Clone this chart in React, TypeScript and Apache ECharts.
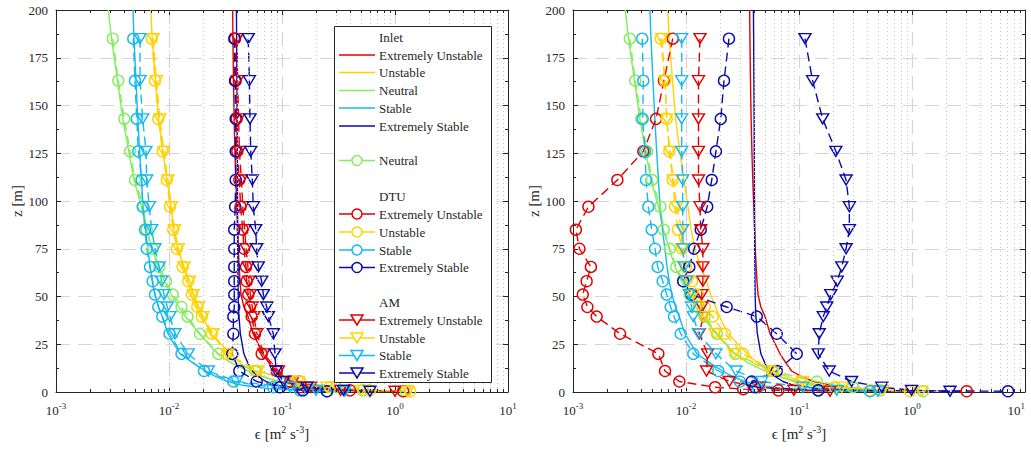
import React, { useEffect, useRef } from 'react';
import * as echarts from 'echarts';

// Heights [m] of the model output levels and of the inlet profile points
const markerZ = [185, 163, 143, 126, 111, 97, 85, 75, 65.5, 58, 51, 44.5, 39.5, 30.5, 20, 11, 5.5, 2.5, 1.5, 0.9, 0.4];
const inletZ = [200, 185, 163, 143, 126, 111, 97, 85, 75, 65.5, 58, 51, 44.5, 39.5, 30.5, 20, 15, 11, 8, 5.5, 3.5, 2, 1, 0.4];

// Inlet dissipation profiles [m2 s-3]
const inletExtUnstable = [0.0366, 0.0368, 0.0372, 0.0377, 0.0383, 0.039, 0.0398, 0.0405, 0.041, 0.0418, 0.0425, 0.0434, 0.046, 0.05, 0.0555, 0.068, 0.077, 0.086, 0.105, 0.135, 0.19, 0.3, 0.55, 1.2];
const inletUnstable = [0.0069, 0.0071, 0.0076, 0.0081, 0.0088, 0.0096, 0.0104, 0.0111, 0.012, 0.0135, 0.0152, 0.0165, 0.0183, 0.0198, 0.0235, 0.035, 0.043, 0.054, 0.068, 0.09, 0.13, 0.22, 0.45, 1.0];
const inletNeutral = [0.0029, 0.0031, 0.0035, 0.0039, 0.0044, 0.0049, 0.0057, 0.0063, 0.0071, 0.008, 0.0091, 0.0105, 0.0122, 0.014, 0.0185, 0.027, 0.036, 0.05, 0.068, 0.095, 0.14, 0.24, 0.45, 1.0];
const inletStable = [0.0048, 0.0049, 0.0051, 0.0053, 0.0055, 0.0057, 0.0059, 0.0062, 0.0065, 0.0068, 0.0071, 0.0075, 0.0081, 0.0087, 0.0098, 0.0125, 0.0165, 0.021, 0.026, 0.033, 0.045, 0.07, 0.13, 0.3];
const inletExtStable = [0.0395, 0.0397, 0.0399, 0.0401, 0.0402, 0.0403, 0.0404, 0.0405, 0.0406, 0.0407, 0.0408, 0.0409, 0.0412, 0.0416, 0.0428, 0.046, 0.05, 0.0545, 0.062, 0.072, 0.09, 0.14, 0.28, 0.7];

// Neutral reference case (both panels)
const neutralRef = [0.00318, 0.00356, 0.00402, 0.00452, 0.005, 0.00593, 0.00635, 0.00718, 0.0082, 0.0094, 0.0108, 0.0129, 0.0146, 0.0188, 0.0273, 0.0577, 0.144, 0.3, null, 0.52, 1.25];

// Left panel: DTU (circles) and AM (triangles)
const dtuLeftExtUnstable = [0.0384, 0.0389, 0.0397, 0.0402, 0.0419, 0.043, 0.0449, 0.0461, 0.048, 0.0487, 0.0503, 0.0521, 0.0539, 0.0577, 0.0661, 0.0898, 0.118, 0.144, null, 0.4, 1.18];
const dtuLeftUnstable = [0.00703, 0.00752, 0.00804, 0.00879, 0.00955, 0.0102, 0.0109, 0.0117, 0.0132, 0.0148, 0.0159, 0.0178, 0.0195, 0.0239, 0.0324, 0.0597, 0.144, 0.266, null, 0.6, 1.36];
const dtuLeftStable = [0.00483, 0.005, 0.00518, 0.00535, 0.00573, 0.00585, 0.00614, 0.00635, 0.00679, 0.00717, 0.00752, 0.00804, 0.00872, 0.0101, 0.0129, 0.0204, 0.0371, 0.0832, null, 0.144, 0.25];
const dtuLeftExtStable = [0.0378, 0.0384, 0.0389, 0.0389, 0.0389, 0.0385, 0.0378, 0.0378, 0.0378, 0.0378, 0.0378, 0.0378, 0.0371, 0.0371, 0.0363, 0.0419, 0.0597, 0.096, null, 0.153, 0.25];
const amLeftExtUnstable = [0.04, 0.0405, 0.0413, 0.042, 0.0437, 0.045, 0.0468, 0.0481, 0.05, 0.051, 0.0525, 0.0545, 0.0563, 0.06, 0.069, 0.093, 0.125, 0.18, null, 0.33, 1.0];
const amLeftUnstable = [0.00725, 0.00775, 0.0083, 0.009, 0.0098, 0.0105, 0.0112, 0.0121, 0.0136, 0.0152, 0.0164, 0.0183, 0.02, 0.0245, 0.033, 0.061, 0.14, 0.25, null, 0.5, 1.3];
const amLeftStable = [0.00554, 0.00554, 0.00585, 0.00626, 0.00635, 0.00669, 0.00703, 0.00752, 0.0082, 0.00861, 0.00903, 0.00966, 0.0102, 0.0113, 0.0148, 0.0223, 0.0397, 0.118, null, 0.2, 0.361];
const amLeftExtStable = [0.0503, 0.0514, 0.0521, 0.0529, 0.0546, 0.0557, 0.0585, 0.0597, 0.0617, 0.0661, 0.0684, 0.0733, 0.0757, 0.0838, 0.0867, 0.0885, 0.103, 0.166, null, 0.35, 0.6];

// Right panel: DTU (circles) and AM (triangles)
const dtuRightExtUnstable = [0.00763, 0.00638, 0.00543, 0.00419, 0.00247, 0.00137, 0.00106, 0.00114, 0.00144, 0.00132, 0.00122, 0.00134, 0.00162, 0.00261, 0.00569, 0.00652, 0.00873, 0.0181, 0.0321, 0.0656, 3.05];
const dtuRightUnstable = [0.00597, 0.00652, 0.00675, 0.00712, 0.00763, 0.00799, 0.00849, 0.00922, 0.01, 0.0113, 0.0128, 0.0147, 0.0172, 0.0221, 0.0321, 0.0593, 0.102, 0.208, null, 0.425, 0.96];
const dtuRightStable = [0.0041, 0.00419, 0.00414, 0.00434, 0.00443, 0.00464, 0.00497, 0.00532, 0.00562, 0.00622, 0.00675, 0.00732, 0.00783, 0.00898, 0.0116, 0.0193, 0.03, 0.0434, null, 0.147, 0.425];
const dtuRightExtStable = [0.024, 0.0217, 0.0203, 0.0184, 0.0169, 0.0154, 0.0135, 0.0118, 0.0107, 0.00946, 0.0112, 0.0229, 0.0423, 0.0635, 0.0955, 0.0635, 0.0381, 0.0408, null, 0.148, 7.07];
const amRightExtUnstable = [0.0133, 0.0129, 0.0129, 0.0129, 0.0129, 0.0133, 0.0135, 0.0141, 0.0141, 0.0141, 0.0138, 0.0138, 0.0142, 0.0131, 0.0155, 0.0152, 0.0242, 0.045, null, 0.09, 0.188];
const amRightUnstable = [0.0061, 0.00652, 0.00675, 0.00722, 0.00772, 0.00828, 0.00916, 0.00916, 0.0096, 0.0105, 0.0116, 0.0129, 0.0142, 0.0181, 0.0266, 0.0546, 0.108, 0.239, null, 0.553, 1.22];
const amRightStable = [0.00916, 0.00916, 0.00916, 0.00916, 0.00935, 0.00935, 0.00935, 0.00946, 0.0096, 0.0101, 0.0107, 0.0112, 0.0116, 0.0129, 0.0184, 0.0277, 0.0468, 0.108, null, 0.216, 0.5];
const amRightExtStable = [0.113, 0.132, 0.162, 0.212, 0.261, 0.279, 0.279, 0.261, 0.239, 0.218, 0.191, 0.176, 0.164, 0.151, 0.148, 0.185, 0.292, 0.54, null, 0.99, 2.17];

const C_EU = '#E20000';
const C_U = '#FFD300';
const C_N = '#85EC5E';
const C_S = '#14B9F2';
const C_ES = '#0A0AAE';
const INK = '#262626';
const FONT = "'Liberation Serif', 'Times New Roman', serif";

const yTicks = [0, 25, 50, 75, 100, 125, 150, 175, 200];

function inletLine(values: number[], color: string, g: number) {
  return {
    type: 'line',
    xAxisIndex: g * 2,
    yAxisIndex: g * 2,
    data: inletZ.map((z, i) => [values[i], z]),
    symbol: 'none',
    showSymbol: false,
    lineStyle: { color, width: 1.4 },
    itemStyle: { color },
    z: 3,
    silent: true,
  };
}

function markerLine(values: (number | null)[], color: string, shape: 'circle' | 'tri', g: number) {
  const data: number[][] = [];
  markerZ.forEach((z, i) => {
    const v = values[i];
    if (v !== null && v !== undefined) data.push([v, z]);
  });
  return {
    type: 'line',
    xAxisIndex: g * 2,
    yAxisIndex: g * 2,
    data,
    symbol: shape === 'circle' ? 'circle' : 'triangle',
    symbolRotate: shape === 'circle' ? 0 : 180,
    symbolSize: shape === 'circle' ? 11 : [12, 10],
    showSymbol: true,
    showAllSymbol: true,
    lineStyle: { color, width: 1.4, type: [9, 5] },
    itemStyle: { color: 'rgba(255,255,255,0)', borderColor: color, borderWidth: 1.4 },
    z: 4,
    silent: true,
  };
}

// Minor log gridlines and ticks (2..9 x each decade)
const minorValues: number[] = [];
for (let d = -3; d <= 0; d++) {
  for (let k = 2; k <= 9; k++) minorValues.push(parseFloat((k * Math.pow(10, d)).toPrecision(3)));
}

function minorGrid(g: number) {
  return {
    type: 'line',
    xAxisIndex: g * 2,
    yAxisIndex: g * 2,
    data: [],
    silent: true,
    z: 1,
    markLine: {
      silent: true,
      symbol: ['none', 'none'],
      label: { show: false },
      lineStyle: { color: '#c6c6c6', type: [1, 3], width: 1 },
      data: minorValues.map((v) => ({ xAxis: v })),
    },
  };
}

function minorTicks(g: number) {
  const segs: any[] = [];
  minorValues.forEach((v) => {
    segs.push([{ coord: [v, 0] }, { coord: [v, 1.6] }]);
    segs.push([{ coord: [v, 200] }, { coord: [v, 198.4] }]);
  });
  return {
    type: 'line',
    xAxisIndex: g * 2,
    yAxisIndex: g * 2,
    data: [],
    silent: true,
    z: 5,
    markLine: {
      silent: true,
      symbol: ['none', 'none'],
      label: { show: false },
      lineStyle: { color: INK, type: 'solid', width: 1 },
      data: segs,
    },
  };
}

const supRich = {
  b: { fontSize: 13, lineHeight: 18, fontFamily: FONT, color: INK },
  s: { fontSize: 9, lineHeight: 9, verticalAlign: 'top', fontFamily: FONT, color: INK },
};

function xAxes(g: number) {
  const common = {
    type: 'log',
    logBase: 10,
    min: 0.001,
    max: 10,
    gridIndex: g,
    axisLine: { show: true, onZero: false, lineStyle: { color: INK, width: 1 } },
    axisTick: { show: true, inside: true, length: 5, lineStyle: { color: INK } },
    minorTick: { show: false },
  };
  return [
    {
      ...common,
      position: 'bottom',
      axisLabel: {
        show: true,
        margin: 9,
        fontFamily: FONT,
        alignMaxLabel: g === 1 ? 'right' : undefined,
        formatter: (v: number) => `{b|10}{s|${Math.round(Math.log10(v))}}`,
        rich: supRich,
      },
      splitLine: { show: true, lineStyle: { color: '#d6d6d6', type: [14, 8], width: 1.2 } },
      name: '{a|ϵ [m}{s|2}{a| s}{s|-3}{a|]}',
      nameLocation: 'middle',
      nameGap: 32,
      nameTextStyle: {
        fontFamily: FONT,
        rich: {
          a: { fontSize: 15, lineHeight: 20, fontFamily: FONT, color: INK },
          s: { fontSize: 10, lineHeight: 10, verticalAlign: 'top', fontFamily: FONT, color: INK },
        },
      },
    },
    {
      ...common,
      position: 'top',
      axisLabel: { show: false },
      splitLine: { show: false },
    },
  ];
}

function yAxes(g: number) {
  const common = {
    type: 'value',
    min: 0,
    max: 200,
    interval: 25,
    gridIndex: g,
    axisLine: { show: true, onZero: false, lineStyle: { color: INK, width: 1 } },
    axisTick: { show: true, inside: true, length: 5, lineStyle: { color: INK } },
    minorTick: { show: true, splitNumber: 2, length: 3, lineStyle: { color: INK } },
  };
  return [
    {
      ...common,
      position: 'left',
      axisLabel: { show: true, margin: 8, color: INK, fontSize: 13, fontFamily: FONT, customValues: yTicks },
      splitLine: { show: true, lineStyle: { color: '#d6d6d6', type: [14, 8], width: 1.2 } },
      name: 'z [m]',
      nameLocation: 'middle',
      nameGap: 24,
      nameRotate: 90,
      nameTextStyle: { fontSize: 15, fontFamily: FONT, color: INK },
    },
    {
      ...common,
      position: 'right',
      axisLabel: { show: false },
      splitLine: { show: false },
    },
  ];
}

// Legend drawn inside the left panel
type Row = { label: string; color?: string; kind?: 'line' | 'circle' | 'tri'; y: number };
const legendRows: Row[] = [
  { label: 'Inlet', y: 37 },
  { label: 'Extremely Unstable', color: C_EU, kind: 'line', y: 55 },
  { label: 'Unstable', color: C_U, kind: 'line', y: 72.5 },
  { label: 'Neutral', color: C_N, kind: 'line', y: 90.5 },
  { label: 'Stable', color: C_S, kind: 'line', y: 108 },
  { label: 'Extremely Stable', color: C_ES, kind: 'line', y: 126 },
  { label: 'Neutral', color: C_N, kind: 'circle', y: 160.5 },
  { label: 'DTU', y: 196.5 },
  { label: 'Extremely Unstable', color: C_EU, kind: 'circle', y: 214 },
  { label: 'Unstable', color: C_U, kind: 'circle', y: 232 },
  { label: 'Stable', color: C_S, kind: 'circle', y: 250 },
  { label: 'Extremely Stable', color: C_ES, kind: 'circle', y: 267.5 },
  { label: 'AM', y: 302.5 },
  { label: 'Extremely Unstable', color: C_EU, kind: 'tri', y: 320 },
  { label: 'Unstable', color: C_U, kind: 'tri', y: 338 },
  { label: 'Stable', color: C_S, kind: 'tri', y: 355.5 },
  { label: 'Extremely Stable', color: C_ES, kind: 'tri', y: 373 },
];

function legendGraphic() {
  const els: any[] = [
    {
      type: 'rect',
      shape: { x: 334.5, y: 26.5, width: 157, height: 356 },
      style: { fill: '#ffffff', stroke: INK, lineWidth: 1 },
      z: 100,
    },
  ];
  const x0 = 339;
  const x1 = 375;
  const xm = 357;
  const xt = 379;
  legendRows.forEach((r) => {
    if (r.kind) {
      els.push({ type: 'line', shape: { x1: x0, y1: r.y, x2: x1, y2: r.y }, style: { stroke: r.color, lineWidth: 1.5 }, z: 101 });
    }
    if (r.kind === 'circle') {
      els.push({ type: 'circle', shape: { cx: xm, cy: r.y, r: 5 }, style: { fill: '#ffffff', stroke: r.color, lineWidth: 1.5 }, z: 102 });
    } else if (r.kind === 'tri') {
      els.push({
        type: 'polygon',
        shape: { points: [[xm - 6, r.y - 5], [xm + 6, r.y - 5], [xm, r.y + 5]] },
        style: { fill: '#ffffff', stroke: r.color, lineWidth: 1.5 },
        z: 102,
      });
    }
    els.push({
      type: 'text',
      x: xt,
      y: r.y,
      style: { text: r.label, fill: INK, fontSize: 13, fontFamily: FONT, verticalAlign: 'middle', align: 'left' },
      z: 103,
    });
  });
  return els;
}

export default function App() {
  const ref = useRef<HTMLDivElement>(null);

  useEffect(() => {
    if (!ref.current) return;
    const chart = echarts.init(ref.current, undefined, { renderer: 'svg' });

    const series: any[] = [];
    [0, 1].forEach((g) => {
      series.push(minorGrid(g));
      series.push(inletLine(inletExtUnstable, C_EU, g));
      series.push(inletLine(inletUnstable, C_U, g));
      series.push(inletLine(inletNeutral, C_N, g));
      series.push(inletLine(inletStable, C_S, g));
      series.push(inletLine(inletExtStable, C_ES, g));
      series.push(markerLine(neutralRef, C_N, 'circle', g));
    });
    series.push(markerLine(dtuLeftExtUnstable, C_EU, 'circle', 0));
    series.push(markerLine(dtuLeftUnstable, C_U, 'circle', 0));
    series.push(markerLine(dtuLeftStable, C_S, 'circle', 0));
    series.push(markerLine(dtuLeftExtStable, C_ES, 'circle', 0));
    series.push(markerLine(amLeftExtUnstable, C_EU, 'tri', 0));
    series.push(markerLine(amLeftUnstable, C_U, 'tri', 0));
    series.push(markerLine(amLeftStable, C_S, 'tri', 0));
    series.push(markerLine(amLeftExtStable, C_ES, 'tri', 0));
    series.push(markerLine(dtuRightExtUnstable, C_EU, 'circle', 1));
    series.push(markerLine(dtuRightUnstable, C_U, 'circle', 1));
    series.push(markerLine(dtuRightStable, C_S, 'circle', 1));
    series.push(markerLine(dtuRightExtStable, C_ES, 'circle', 1));
    series.push(markerLine(amRightExtUnstable, C_EU, 'tri', 1));
    series.push(markerLine(amRightUnstable, C_U, 'tri', 1));
    series.push(markerLine(amRightStable, C_S, 'tri', 1));
    series.push(markerLine(amRightExtStable, C_ES, 'tri', 1));
    series.push(minorTicks(0));
    series.push(minorTicks(1));

    chart.setOption({
      animation: false,
      backgroundColor: '#ffffff',
      textStyle: { fontFamily: FONT, color: INK },
      grid: [
        { left: 56, width: 452, top: 10, height: 382, outerBoundsMode: 'none', containLabel: false },
        { left: 573, width: 452, top: 10, height: 382, outerBoundsMode: 'none', containLabel: false },
      ],
      xAxis: [...xAxes(0), ...xAxes(1)],
      yAxis: [...yAxes(0), ...yAxes(1)],
      series,
      graphic: legendGraphic(),
    });

    return () => chart.dispose();
  }, []);

  return (
    <div
      ref={ref}
      style={{ position: 'absolute', left: 0, top: 0, width: 1031, height: 449, background: '#ffffff' }}
    />
  );
}
